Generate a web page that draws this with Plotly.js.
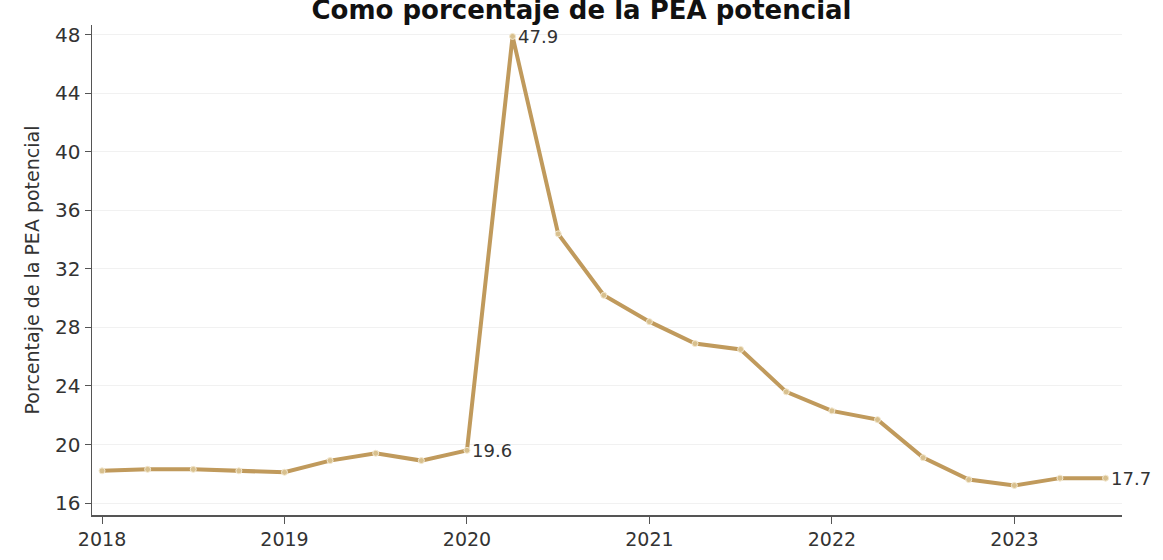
<!DOCTYPE html>
<html>
<head>
<meta charset="utf-8">
<script src="https://cdn.plot.ly/plotly-3.0.1.min.js"></script>
<style>html,body{margin:0;padding:0;background:#fff;}#chart{width:1163px;height:560px;}</style>
</head>
<body>
<div id="chart"></div>
<script>
const periods = [2018, 2018.25, 2018.5, 2018.75, 2019, 2019.25, 2019.5, 2019.75, 2020, 2020.25, 2020.5, 2020.75, 2021, 2021.25, 2021.5, 2021.75, 2022, 2022.25, 2022.5, 2022.75, 2023, 2023.25, 2023.5];
const values = [18.2, 18.3, 18.3, 18.2, 18.1, 18.9, 19.4, 18.9, 19.6, 47.9, 34.4, 30.2, 28.4, 26.9, 26.5, 23.6, 22.3, 21.7, 19.1, 17.6, 17.2, 17.7, 17.7];
const tickYears = [2018, 2019, 2020, 2021, 2022, 2023];
const yTicks = [16, 20, 24, 28, 32, 36, 40, 44, 48];
const labelIdx = [8, 9, 22];
const titleText = 'Como porcentaje de la PEA potencial';
const yTitle = 'Porcentaje de la PEA potencial';

const font = '"DejaVu Sans", Verdana, sans-serif';
const lineColor = '#c09a5c';

const trace = {
  x: periods, y: values, type: 'scatter', mode: 'lines+markers',
  line: {color: lineColor, width: 4},
  marker: {color: '#d8c08e', size: 6, line: {color: '#f3e8d0', width: 1}},
  hoverinfo: 'x+y', showlegend: false
};

const annotations = labelIdx.map(i => ({
  x: periods[i], y: values[i], xref: 'x', yref: 'y',
  text: values[i].toFixed(1), showarrow: false,
  xanchor: 'left', yanchor: 'middle', xshift: 3,
  font: {family: font, size: 18, color: '#333'}
}));

const layout = {
  width: 1163, height: 560,
  margin: {l: 92, r: 41, t: 25, b: 45},
  paper_bgcolor: '#fff', plot_bgcolor: '#fff',
  title: {text: '<b>' + titleText + '</b>', x: 0.5, xanchor: 'center', y: 1, yref: 'paper', yanchor: 'bottom', pad: {b: 6}, font: {family: font, size: 26, color: '#111'}},
  xaxis: {
    range: [2017.945, 2023.59], tickvals: tickYears, ticktext: tickYears.map(String),
    showgrid: false, zeroline: false, showline: true, linecolor: '#555', linewidth: 1.5,
    ticks: 'outside', ticklen: 7, tickcolor: '#555',
    tickfont: {family: font, size: 19, color: '#333'}
  },
  yaxis: {
    range: [15.18, 48.68], tickvals: yTicks, ticktext: yTicks.map(String),
    showgrid: true, gridcolor: '#f1f1f1', gridwidth: 1, zeroline: false,
    showline: true, linecolor: '#555', linewidth: 1.5,
    ticks: 'outside', ticklen: 6, tickcolor: '#555',
    tickfont: {family: font, size: 20, color: '#333'},
    title: {text: yTitle, font: {family: font, size: 19, color: '#333'}, standoff: 10}
  },
  annotations: annotations
};

Plotly.newPlot('chart', [trace], layout, {displayModeBar: false, staticPlot: true});
</script>
</body>
</html>
